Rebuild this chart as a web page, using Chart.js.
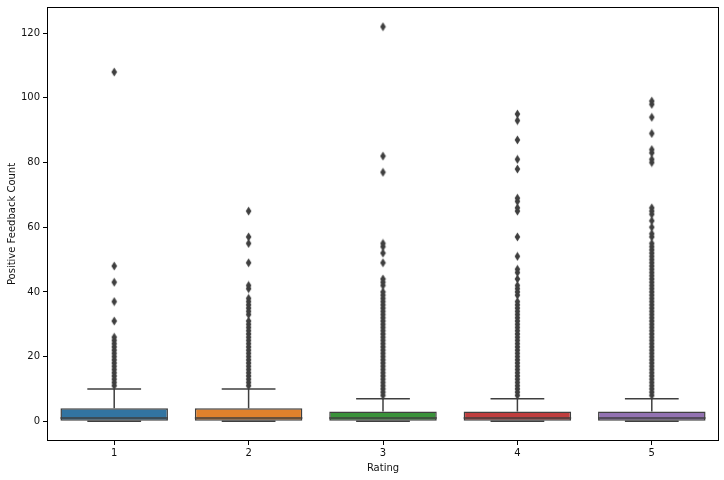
<!DOCTYPE html>
<html>
<head>
<meta charset="utf-8">
<script src="https://cdn.jsdelivr.net/npm/chart.js@4"></script>
<style>
  html, body { margin: 0; padding: 0; background: #fff; }
  #wrap { width: 724px; height: 480px; }
</style>
</head>
<body>
<div id="wrap"><canvas id="chart" width="724" height="480"></canvas></div>
<script>
// --- data ---
const categories = ['1', '2', '3', '4', '5'];
const q1 = [0, 0, 0, 0, 0];
const medians = [1, 1, 1, 1, 1];
const q3 = [4, 4, 3, 3, 3];
const whiskerLow = [0, 0, 0, 0, 0];
const whiskerHigh = [10, 10, 7, 7, 7];
const yTicks = [0, 20, 40, 60, 80, 100, 120];

const outliers1 = [11, 12, 13, 14, 15, 16, 17, 18, 19, 20, 21, 22, 23, 24, 25, 26, 31, 37, 43, 48, 108];
const outliers2 = [11, 12, 13, 14, 15, 16, 17, 18, 19, 20, 21, 22, 23, 24, 25, 26, 27, 28, 29, 30, 31,
    33, 34, 35, 36, 37, 38, 41, 42, 49, 55, 57, 65];
const outliers3 = [8, 9, 10, 11, 12, 13, 14, 15, 16, 17, 18, 19, 20, 21, 22, 23, 24, 25, 26, 27, 28, 29, 30,
    31, 32, 33, 34, 35, 36, 37, 38, 39, 40, 42, 43, 44, 49, 52, 54, 55, 77, 82, 122];
const outliers4 = [8, 9, 10, 11, 12, 13, 14, 15, 16, 17, 18, 19, 20, 21, 22, 23, 24, 25, 26, 27, 28, 29, 30,
    31, 32, 33, 34, 35, 36, 37, 39, 40, 41, 42, 44, 46, 47, 51, 57, 65, 66, 68, 69, 78, 81, 87, 93, 95];
const outliers5 = [8, 9, 10, 11, 12, 13, 14, 15, 16, 17, 18, 19, 20, 21, 22, 23, 24, 25, 26, 27, 28, 29, 30,
    31, 32, 33, 34, 35, 36, 37, 38, 39, 40, 41, 42, 43, 44, 45, 46, 47, 48, 49, 50, 51, 52, 53, 54, 55,
    57, 58, 60, 62, 64, 65, 66, 80, 81, 83, 84, 89, 94, 98, 99];
const outliers = [outliers1, outliers2, outliers3, outliers4, outliers5];

// --- style ---
const boxColors = ['#3274a1', '#e1812c', '#3a923a', '#c03d3e', '#9372b2'];
const gray = '#3f3f3f';
const boxWidth = 0.8;
const capWidth = 0.4;

// thin diamond marker like matplotlib 'd'
function makeDiamond() {
    const c = document.createElement('canvas');
    c.width = 7; c.height = 10;
    const g = c.getContext('2d');
    g.fillStyle = gray;
    g.beginPath();
    g.moveTo(3.5, 0.5);
    g.lineTo(6.3, 5);
    g.lineTo(3.5, 9.5);
    g.lineTo(0.7, 5);
    g.closePath();
    g.fill();
    return c;
}
const diamond = makeDiamond();

function segment(x0, y0, x1, y1) {
    return {
        type: 'line',
        data: [{x: x0, y: y0}, {x: x1, y: y1}],
        borderColor: gray,
        borderWidth: 1.5,
        pointRadius: 0,
        fill: false,
        order: 1
    };
}

const datasets = [];

// boxes (floating bars from q1 to q3)
datasets.push({
    type: 'bar',
    data: categories.map((c, i) => ({x: i, y: [q1[i], q3[i]]})),
    backgroundColor: boxColors,
    borderColor: gray,
    borderWidth: 1.5,
    borderSkipped: false,
    barPercentage: boxWidth,
    categoryPercentage: 1.0,
    order: 2
});

categories.forEach((c, i) => {
    // whiskers
    datasets.push(segment(i, q3[i], i, whiskerHigh[i]));
    datasets.push(segment(i, q1[i], i, whiskerLow[i]));
    // caps
    datasets.push(segment(i - capWidth / 2, whiskerHigh[i], i + capWidth / 2, whiskerHigh[i]));
    datasets.push(segment(i - capWidth / 2, whiskerLow[i], i + capWidth / 2, whiskerLow[i]));
    // median
    datasets.push(segment(i - boxWidth / 2, medians[i], i + boxWidth / 2, medians[i]));
    // outliers
    datasets.push({
        type: 'line',
        showLine: false,
        data: outliers[i].map(v => ({x: i, y: v})),
        pointStyle: diamond,
        pointRadius: 4,
        order: 0
    });
});

// top and right spines
const framePlugin = {
    id: 'frame',
    afterDraw(chart) {
        const a = chart.chartArea;
        const ctx = chart.ctx;
        ctx.save();
        ctx.strokeStyle = '#000';
        ctx.lineWidth = 1;
        ctx.strokeRect(Math.round(a.left) + 0.5, Math.round(a.top) + 0.5,
            Math.round(a.right - a.left) - 1, Math.round(a.bottom - a.top) - 1);
        ctx.restore();
    }
};

Chart.defaults.font.family = 'DejaVu Sans';
Chart.defaults.font.size = 10;
Chart.defaults.color = '#111';

new Chart(document.getElementById('chart'), {
    type: 'bar',
    data: { datasets: datasets },
    options: {
        responsive: false,
        animation: false,
        layout: { padding: { top: 7, right: 4, left: 0, bottom: 0 } },
        plugins: {
            legend: { display: false },
            tooltip: { enabled: false }
        },
        scales: {
            x: {
                type: 'linear',
                min: -0.5,
                max: 4.5,
                offset: false,
                afterBuildTicks: s => { s.ticks = categories.map((c, i) => ({value: i})); },
                afterFit: s => { s.height = 39; s.paddingLeft = 0; s.paddingRight = 0; },
                ticks: {
                    callback: v => categories[v],
                    padding: 2,
                    maxRotation: 0
                },
                grid: {
                    offset: false,
                    drawOnChartArea: false,
                    drawTicks: true,
                    tickLength: 4,
                    color: '#000'
                },
                border: { display: false },
                title: {
                    display: true,
                    text: 'Rating',
                    padding: { top: 2, bottom: 6 }
                }
            },
            y: {
                min: -6.1,
                max: 128.1,
                afterBuildTicks: s => { s.ticks = yTicks.map(v => ({value: v})); },
                afterFit: s => { s.width = 47; s.paddingTop = 0; s.paddingBottom = 0; },
                ticks: { padding: 3 },
                grid: {
                    drawOnChartArea: false,
                    drawTicks: true,
                    tickLength: 4,
                    color: '#000'
                },
                border: { display: false },
                title: {
                    display: true,
                    text: 'Positive Feedback Count',
                    padding: { top: 6, bottom: 4 }
                }
            }
        }
    },
    plugins: [framePlugin]
});
</script>
</body>
</html>
